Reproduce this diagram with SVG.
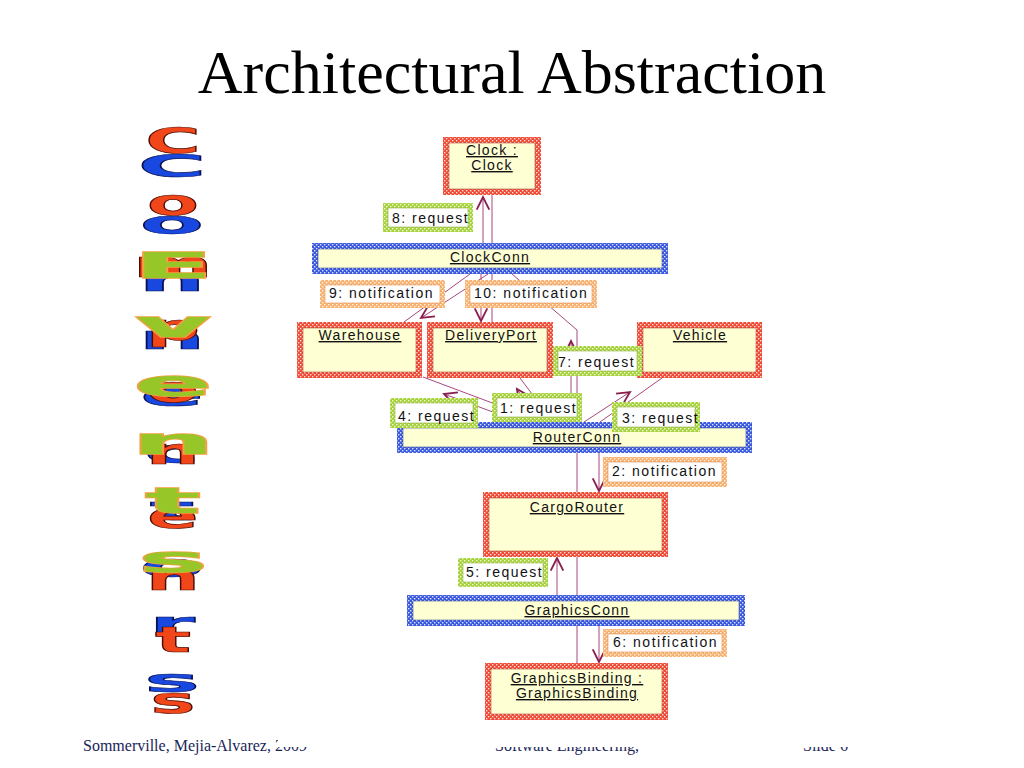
<svg xmlns="http://www.w3.org/2000/svg" width="1024" height="768" viewBox="0 0 1024 768">
<defs>
<pattern id="pRed" width="4" height="4" patternUnits="userSpaceOnUse"><rect width="4" height="4" fill="#EE4A36"/><rect x="0" y="0" width="1.4" height="1.4" fill="#FFE0D8"/><rect x="2" y="2" width="1.4" height="1.4" fill="#FFE0D8"/></pattern>
<pattern id="pBlue" width="4" height="4" patternUnits="userSpaceOnUse"><rect width="4" height="4" fill="#3A58DC"/><rect x="0" y="0" width="1.4" height="1.4" fill="#DDE4FF"/><rect x="2" y="2" width="1.4" height="1.4" fill="#DDE4FF"/></pattern>
<pattern id="pGreen" width="4" height="4" patternUnits="userSpaceOnUse"><rect width="4" height="4" fill="#A6D23E"/><rect x="0" y="0" width="1.4" height="1.4" fill="#F2FAD8"/><rect x="2" y="2" width="1.4" height="1.4" fill="#F2FAD8"/></pattern>
<pattern id="pOrange" width="4" height="4" patternUnits="userSpaceOnUse"><rect width="4" height="4" fill="#F6B272"/><rect x="0" y="0" width="1.4" height="1.4" fill="#FFF0E0"/><rect x="2" y="2" width="1.4" height="1.4" fill="#FFF0E0"/></pattern>
<marker id="arr" markerUnits="userSpaceOnUse" markerWidth="16" markerHeight="16" refX="12" refY="6.5" orient="auto" viewBox="0 0 14 13"><path d="M1,1 L12,6.5 L1,12" fill="none" stroke="#8A1E50" stroke-width="1.6"/></marker>
<clipPath id="footClip"><rect x="0" y="735" width="278" height="33"/><rect x="0" y="747" width="1024" height="21"/></clipPath>
</defs>
<style>
.red{fill:url(#pRed)}
.blue{fill:url(#pBlue)}
.green{fill:url(#pGreen)}
.orange{fill:url(#pOrange)}
.in{fill:#FFFFD4;stroke:#B05040;stroke-width:0.6}
.inb{fill:#FFFFD4;stroke:#4050A0;stroke-width:0.6}
.lin{fill:#FFFFFF;stroke:#90B040;stroke-width:0.6}
.lino{fill:#FFFFFF;stroke:#E09050;stroke-width:0.6}
.nt{font-family:"Liberation Sans",Arial,sans-serif;font-size:14px;letter-spacing:1.3px;fill:#111;text-anchor:middle;text-decoration:underline}
.lt{font-family:"Liberation Sans",Arial,sans-serif;font-size:14px;letter-spacing:1.5px;fill:#111}
.ln{fill:none;stroke:#A8487E;stroke-width:1}
.ar{fill:none;stroke:#A8487E;stroke-width:1;marker-end:url(#arr)}
.wa{font-family:"DejaVu Sans",sans-serif;font-weight:bold;font-size:36px;text-anchor:middle}
.wr{fill:#F0461A;stroke:#4A0A00;stroke-width:0.7}
.wb{fill:#1848E0;stroke:#081050;stroke-width:0.7}
.wg{fill:#96C628;stroke:#F2A040;stroke-width:1.4;paint-order:stroke}
.ft{font-family:"Liberation Serif","Times New Roman",serif;font-size:16px;fill:#1A2558}
</style>
<rect width="1024" height="768" fill="#FFFFFF"/>
<text x="512" y="93" font-family="Liberation Serif,'Times New Roman',serif" font-size="62" text-anchor="middle" fill="#000">Architectural Abstraction</text>

<g id="wordart-connectors">
<text class="wa wb" transform="translate(172,177) scale(2.6,0.9)">C</text>
<text class="wa wb" transform="translate(172,234.2) scale(2.6,0.9)">o</text>
<text class="wa wb" transform="translate(172,291.4) scale(2.6,0.9)">n</text>
<text class="wa wb" transform="translate(172,348.6) scale(2.6,0.9)">n</text>
<text class="wa wb" transform="translate(172,405.8) scale(2.6,0.9)">e</text>
<text class="wa wb" transform="translate(172,463) scale(2.6,0.9)">c</text>
<text class="wa wb" transform="translate(172,520.2) scale(2.6,0.9)">t</text>
<text class="wa wb" transform="translate(172,577.4) scale(2.6,0.9)">o</text>
<text class="wa wb" transform="translate(172,634.6) scale(2.6,0.9)">r</text>
<text class="wa wb" transform="translate(172,691.8) scale(2.6,0.9)">s</text>
</g>
<g id="wordart-components">
<text class="wa wr" transform="translate(173,153) scale(2.1,1)">C</text>
<text class="wa wr" transform="translate(173,215.2) scale(2.1,1)">o</text>
<text class="wa wr" transform="translate(173,277.4) scale(2.1,1)">m</text>
<text class="wa wr" transform="translate(173,339.6) scale(2.1,1)">p</text>
<text class="wa wr" transform="translate(173,401.8) scale(2.1,1)">o</text>
<text class="wa wr" transform="translate(173,464) scale(2.1,1)">n</text>
<text class="wa wr" transform="translate(173,528) scale(2.1,1)">e</text>
<text class="wa wr" transform="translate(173,590) scale(2.1,1)">n</text>
<text class="wa wr" transform="translate(173,651.8) scale(2.1,1)">t</text>
<text class="wa wr" transform="translate(173,713) scale(2.1,1)">s</text>
</g>
<g id="wordart-events">
<text class="wa wg" transform="translate(173,278) scale(3.2,1)">E</text>
<text class="wa wg" transform="translate(173,336.8) scale(3.2,1)">v</text>
<text class="wa wg" transform="translate(173,395.6) scale(3.2,1)">e</text>
<text class="wa wg" transform="translate(173,454.4) scale(3.2,1)">n</text>
<text class="wa wg" transform="translate(173,513.2) scale(3.2,1)">t</text>
<text class="wa wg" transform="translate(173,572) scale(3.2,1)">s</text>
</g>

<g id="connectors">
<line class="ln" x1="492" y1="243" x2="492" y2="195"/>
<line class="ar" x1="483" y1="243" x2="483" y2="197"/>
<line class="ln" x1="470" y1="274" x2="404" y2="322"/>
<line class="ar" x1="488" y1="274" x2="421" y2="318"/>
<line class="ln" x1="492" y1="274" x2="492" y2="322"/>
<line class="ar" x1="481" y1="274" x2="481" y2="321"/>
<polyline class="ln" points="512,274 577,330 577,422"/>
<line class="ar" x1="571" y1="398" x2="571" y2="341"/>
<line class="ln" x1="423" y1="377" x2="543" y2="422"/>
<line class="ar" x1="520" y1="422" x2="444" y2="394"/>
<line class="ln" x1="520" y1="378" x2="553" y2="422"/>
<line class="ar" x1="538" y1="421" x2="517" y2="389"/>
<line class="ln" x1="662" y1="378" x2="600" y2="422"/>
<line class="ar" x1="584" y1="422" x2="630" y2="392"/>
<line class="ln" x1="577" y1="453" x2="577" y2="492"/>
<line class="ar" x1="599" y1="453" x2="599" y2="491"/>
<line class="ln" x1="577" y1="557" x2="577" y2="595"/>
<line class="ar" x1="557" y1="595" x2="557" y2="558"/>
<line class="ln" x1="577" y1="626" x2="577" y2="663"/>
<line class="ar" x1="599" y1="626" x2="599" y2="662"/>
</g>

<g id="clock">
<rect class="red" x="443" y="137" width="98" height="58"/>
<rect class="in" x="449" y="143" width="86" height="46"/>
<text class="nt" x="492" y="155">Clock :</text>
<text class="nt" x="492" y="170">Clock</text>
</g>
<g id="clockconn">
<rect class="blue" x="312" y="243" width="356" height="31"/>
<rect class="inb" x="318" y="249" width="344" height="19"/>
<text class="nt" x="490" y="262">ClockConn</text>
</g>
<g id="warehouse">
<rect class="red" x="297" y="322" width="125" height="56"/>
<rect class="in" x="303" y="328" width="113" height="44"/>
<text class="nt" x="360" y="340">Warehouse</text>
</g>
<g id="deliveryport">
<rect class="red" x="427" y="322" width="126" height="56"/>
<rect class="in" x="433" y="328" width="114" height="44"/>
<text class="nt" x="491" y="340">DeliveryPort</text>
</g>
<g id="vehicle">
<rect class="red" x="637" y="322" width="125" height="56"/>
<rect class="in" x="643" y="328" width="113" height="44"/>
<text class="nt" x="700" y="340">Vehicle</text>
</g>
<g id="routerconn">
<rect class="blue" x="397" y="422" width="355" height="31"/>
<rect class="inb" x="403" y="428" width="343" height="19"/>
<text class="nt" x="577" y="442">RouterConn</text>
</g>
<g id="cargorouter">
<rect class="red" x="483" y="492" width="185" height="65"/>
<rect class="in" x="489" y="498" width="173" height="53"/>
<text class="nt" x="577" y="512">CargoRouter</text>
</g>
<g id="graphicsconn">
<rect class="blue" x="407" y="595" width="338" height="31"/>
<rect class="inb" x="413" y="601" width="326" height="19"/>
<text class="nt" x="577" y="615">GraphicsConn</text>
</g>
<g id="graphicsbinding">
<rect class="red" x="485" y="663" width="183" height="57"/>
<rect class="in" x="491" y="669" width="171" height="45"/>
<text class="nt" x="577" y="683">GraphicsBinding :</text>
<text class="nt" x="577" y="698">GraphicsBinding</text>
</g>

<g id="label-8">
<rect class="green" x="383" y="203" width="90" height="29"/>
<rect class="lin" x="388" y="208" width="80" height="19"/>
<text class="lt" x="392" y="223">8: request</text>
</g>
<g id="label-9">
<rect class="orange" x="320" y="280" width="125" height="28"/>
<rect class="lino" x="325" y="285" width="115" height="18"/>
<text class="lt" x="329" y="298">9: notification</text>
</g>
<g id="label-10">
<rect class="orange" x="465" y="280" width="132" height="28"/>
<rect class="lino" x="470" y="285" width="122" height="18"/>
<text class="lt" x="474" y="298">10: notification</text>
</g>
<g id="label-7">
<rect class="green" x="553" y="346" width="89" height="30"/>
<rect class="lin" x="558" y="351" width="79" height="20"/>
<text class="lt" x="558" y="367">7: request</text>
</g>
<g id="label-1">
<rect class="green" x="492" y="393" width="90" height="29"/>
<rect class="lin" x="497" y="398" width="80" height="19"/>
<text class="lt" x="500" y="413">1: request</text>
</g>
<g id="label-4">
<rect class="green" x="390" y="398" width="88" height="30"/>
<rect class="lin" x="395" y="403" width="78" height="20"/>
<text class="lt" x="398" y="421">4: request</text>
</g>
<g id="label-3">
<rect class="green" x="612" y="402" width="88" height="30"/>
<rect class="lin" x="617" y="407" width="78" height="20"/>
<text class="lt" x="622" y="423">3: request</text>
</g>
<g id="label-2">
<rect class="orange" x="603" y="457" width="124" height="30"/>
<rect class="lino" x="608" y="462" width="114" height="20"/>
<text class="lt" x="612" y="476">2: notification</text>
</g>
<g id="label-5">
<rect class="green" x="458" y="558" width="90" height="29"/>
<rect class="lin" x="463" y="563" width="80" height="19"/>
<text class="lt" x="466" y="577">5: request</text>
</g>
<g id="label-6">
<rect class="orange" x="603" y="629" width="124" height="28"/>
<rect class="lino" x="608" y="634" width="114" height="18"/>
<text class="lt" x="613" y="647">6: notification</text>
</g>

<g id="footer" clip-path="url(#footClip)">
<text class="ft" x="83" y="751">Sommerville, Mejia-Alvarez, 2009</text>
<text class="ft" x="495" y="751">Software Engineering,</text>
<text class="ft" x="803" y="751">Slide 6</text>
</g>
</svg>
